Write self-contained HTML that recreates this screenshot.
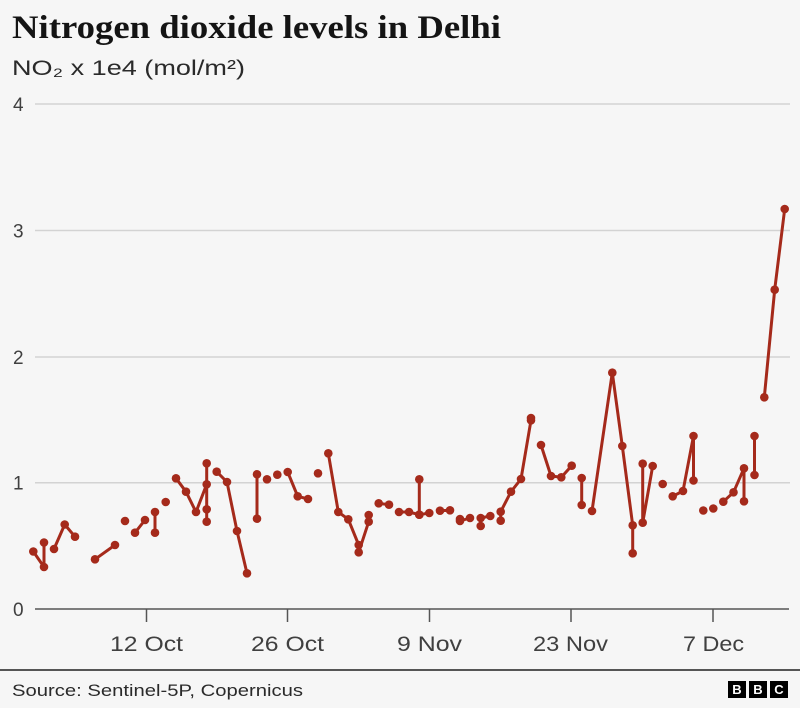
<!DOCTYPE html>
<html>
<head>
<meta charset="utf-8">
<style>
html,body{margin:0;padding:0;background:#f6f6f6;}
svg{display:block;}
.sans{font-family:"Liberation Sans",Arial,sans-serif;}
.serif{font-family:"Liberation Serif","Times New Roman",serif;}
</style>
</head>
<body>
<svg width="800" height="708" viewBox="0 0 800 708" xmlns="http://www.w3.org/2000/svg">
<defs>
<marker id="d" markerUnits="userSpaceOnUse" markerWidth="10" markerHeight="10" refX="5" refY="5" viewBox="0 0 10 10">
<circle cx="5" cy="5" r="4.3" fill="#a52a1b"/>
</marker>
</defs>
<rect x="0" y="0" width="800" height="708" fill="#f6f6f6"/>
<text x="12" y="38" class="serif" font-weight="bold" font-size="33" fill="#141414" textLength="489" lengthAdjust="spacingAndGlyphs">Nitrogen dioxide levels in Delhi</text>
<text x="12" y="75" class="sans" font-size="21" fill="#2a2a2a" textLength="233" lengthAdjust="spacingAndGlyphs">NO₂ x 1e4 (mol/m²)</text>
<g stroke="#d3d3d3" stroke-width="1.5">
<line x1="35" y1="104" x2="790" y2="104"/>
<line x1="35" y1="230.5" x2="790" y2="230.5"/>
<line x1="35" y1="357" x2="790" y2="357"/>
<line x1="35" y1="482.7" x2="790" y2="482.7"/>
</g>
<g class="sans" font-size="19" fill="#404040">
<text x="13" y="111">4</text>
<text x="13" y="237.5">3</text>
<text x="13" y="364">2</text>
<text x="13" y="489.7">1</text>
<text x="13" y="616">0</text>
</g>
<line x1="35" y1="609" x2="789" y2="609" stroke="#555" stroke-width="1.5"/>
<path d="M146.5 609V622M287.5 609V622M429.5 609V622M571 609V622M713 609V622" stroke="#555" stroke-width="1.5" fill="none"/>
<g class="sans" font-size="21" fill="#404040">
<text x="110" y="651" textLength="73" lengthAdjust="spacingAndGlyphs">12 Oct</text>
<text x="251" y="651" textLength="73" lengthAdjust="spacingAndGlyphs">26 Oct</text>
<text x="397" y="651" textLength="65" lengthAdjust="spacingAndGlyphs">9 Nov</text>
<text x="533" y="651" textLength="75" lengthAdjust="spacingAndGlyphs">23 Nov</text>
<text x="683" y="651" textLength="61" lengthAdjust="spacingAndGlyphs">7 Dec</text>
</g>
<g fill="none" stroke="#a52a1b" stroke-width="3" stroke-linejoin="round" stroke-linecap="round" marker-start="url(#d)" marker-mid="url(#d)" marker-end="url(#d)">
<polyline points="33.3,551.5 44,567 44,542.5"/>
<polyline points="54,549 64.7,524.5 75,536.7"/>
<polyline points="95,559.3 115,545"/>
<polyline points="135,532.7 145,520"/>
<polyline points="155,512 155,532.7"/>
<polyline points="176,478.3 186,491.7 196,512 206.7,484.3 206.7,463.3 206.7,521.7"/>
<polyline points="216.7,471.7 227,482 237,531 247,573.3"/>
<polyline points="257,474.3 257,518.7"/>
<polyline points="287.7,472 297.7,496.3 308,499"/>
<polyline points="328.3,453.3 338.3,512 348.3,519.3 358.7,545 358.7,552.3 368.7,521.7 368.7,515"/>
<polyline points="378.7,503.3 389,504.7"/>
<polyline points="399,512 409,512 419.3,514.7 419.3,479.3 419.3,514.7 429.3,513"/>
<polyline points="440,510.7 450,510.3"/>
<polyline points="460,519 460,521 470,518"/>
<polyline points="480.7,526 480.7,518 490.3,516"/>
<polyline points="500.7,520.7 500.7,511.7 511,491.7 521,479 531,420.3 531,418"/>
<polyline points="541,445 551,476 561.3,477.3 571.7,465.7"/>
<polyline points="581.7,478 581.7,505"/>
<polyline points="592,511 612.3,372.7 622.3,446 632.7,525.3 632.7,553.3"/>
<polyline points="642.7,463.7 642.7,522.7 652.7,466"/>
<polyline points="672.7,496.3 683,491 693.5,436 693.5,480.5"/>
<polyline points="723.3,501.7 733.5,492.3 744,468.3 744,501.3"/>
<polyline points="754.5,436 754.5,475"/>
<polyline points="764.3,397.3 774.7,289.7 784.7,209"/>
</g>
<g fill="#a52a1b">
<circle cx="125" cy="521" r="4.3"/>
<circle cx="165.7" cy="502" r="4.3"/>
<circle cx="206.7" cy="509.3" r="4.3"/>
<circle cx="267" cy="479.3" r="4.3"/>
<circle cx="277.3" cy="474.7" r="4.3"/>
<circle cx="318" cy="473.3" r="4.3"/>
<circle cx="662.7" cy="484" r="4.3"/>
<circle cx="703.3" cy="510.5" r="4.3"/>
<circle cx="713.3" cy="508.5" r="4.3"/>
</g>
<line x1="0" y1="670" x2="800" y2="670" stroke="#555" stroke-width="2"/>
<text x="12" y="696" class="sans" font-size="17" fill="#2a2a2a" textLength="291" lengthAdjust="spacingAndGlyphs">Source: Sentinel-5P, Copernicus</text>
<rect x="728" y="681" width="18" height="17" fill="#000"/>
<rect x="749" y="681" width="18" height="17" fill="#000"/>
<rect x="770" y="681" width="18" height="17" fill="#000"/>
<g class="sans" font-weight="bold" font-size="13" fill="#fff" text-anchor="middle">
<text x="737" y="694">B</text>
<text x="758" y="694">B</text>
<text x="779" y="694">C</text>
</g>
</svg>
</body>
</html>
